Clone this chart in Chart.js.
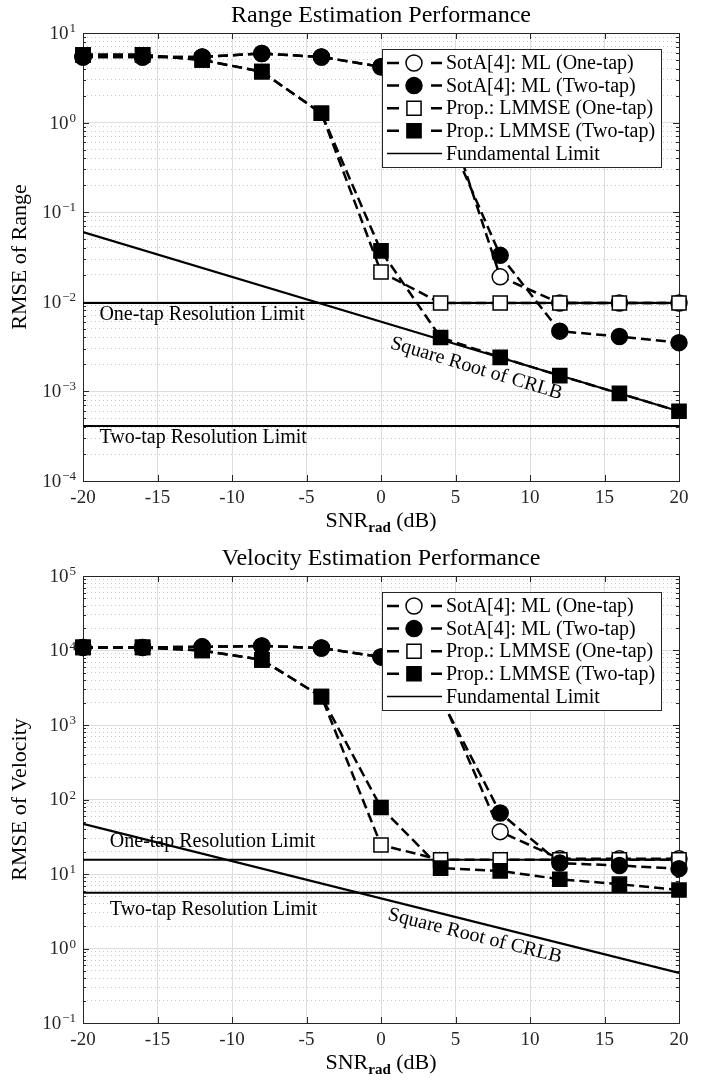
<!DOCTYPE html>
<html>
<head>
<meta charset="utf-8">
<script src="https://cdn.jsdelivr.net/npm/chart.js@4.4.1/dist/chart.umd.min.js"></script>
<style>
  html, body { margin: 0; padding: 0; background: #fff; }
  #wrap { position: relative; width: 713px; height: 1083px; }
  .box { position: absolute; left: 0; width: 713px; }
</style>
</head>
<body>
<div id="wrap">
  <div class="box" style="top:0;height:540px"><canvas id="range-chart"></canvas></div>
  <div class="box" style="top:540px;height:543px"><canvas id="velocity-chart"></canvas></div>
</div>
<script>
// shared axis values
var snr = [-20, -16, -12, -8, -4, 0, 4, 8, 12, 16, 20];
var xTicks = [-20, -15, -10, -5, 0, 5, 10, 15, 20];
var seriesLabels = ["SotA[4]: ML (One-tap)", "SotA[4]: ML (Two-tap)", "Prop.: LMMSE (One-tap)", "Prop.: LMMSE (Two-tap)"];
var limitLabel = "Fundamental Limit";
var limitSnr = [-20, 20];

// range panel
var rangeMlOne = [5.4, 5.4, 5.4, 5.9, 5.4, 4.2, 2.0, 0.019, 0.0097, 0.0097, 0.0097];
var rangeMlTwo = [5.4, 5.4, 5.4, 5.9, 5.4, 4.2, 1.1, 0.033, 0.0047, 0.0041, 0.0035];
var rangeLmOne = [5.7, 5.7, 5.0, 3.7, 1.27, 0.0215, 0.0097, 0.0097, 0.0097, 0.0097, 0.0097];
var rangeLmTwo = [5.7, 5.7, 5.0, 3.7, 1.27, 0.037, 0.0040, 0.0024, 0.0015, 0.00095, 0.0006];
var rangeCrlb = [0.06, 0.0006];
var rangeOneTap = [0.0097, 0.0097];
var rangeTwoTap = [0.00041, 0.00041];
var rangeDecades = [-4, -3, -2, -1, 0, 1];

// velocity panel
var velMlOne = [11000, 11000, 11200, 11500, 10800, 8200, 2500, 37, 16, 16, 16];
var velMlTwo = [11000, 11000, 11200, 11500, 10800, 8200, 2300, 66, 14, 13, 11.8];
var velLmOne = [11000, 11000, 10000, 7500, 2400, 24.5, 15.5, 15.5, 15.5, 15.5, 15.5];
var velLmTwo = [11000, 11000, 10000, 7500, 2400, 78, 12, 11, 8.5, 7.3, 6.1];
var velCrlb = [47, 0.47];
var velOneTap = [15.5, 15.5];
var velTwoTap = [5.6, 5.6];
var velDecades = [-1, 0, 1, 2, 3, 4, 5];

var FONT = "'Liberation Serif', 'Times New Roman', serif";
var INK = "#262626";

function pts(ys, xs) {
  return ys.map(function (y, i) { return { x: xs[i], y: y }; });
}

function isDecade(v) {
  var l = Math.log10(v);
  return Math.abs(l - Math.round(l)) < 1e-9;
}

function series(label, data, style, filled, order) {
  return {
    label: label,
    data: pts(data, snr),
    borderColor: "#000",
    borderWidth: 2.5,
    borderDash: [10, 5],
    pointStyle: style,
    pointRadius: style === "rect" ? 10 : 8,
    pointHoverRadius: style === "rect" ? 10 : 8,
    pointBackgroundColor: filled ? "#000" : "#fff",
    pointBorderColor: "#000",
    pointBorderWidth: 1.5,
    order: order,
    clip: false,
    inLegend: true
  };
}

function limitLine(label, data, width, inLegend) {
  return {
    label: label,
    data: pts(data, limitSnr),
    borderColor: "#000",
    borderWidth: width,
    pointRadius: 0,
    pointHoverRadius: 0,
    order: 10,
    inLegend: inLegend
  };
}

function figurePlugin(fig) {
  return {
    id: "figure",
    beforeDatasetsDraw: function (chart) {
      var ctx = chart.ctx, a = chart.chartArea, ys = chart.scales.y, xs = chart.scales.x;
      ctx.save();
      ctx.strokeStyle = INK;
      ctx.lineWidth = 1;
      ctx.beginPath();
      ys.ticks.forEach(function (t) {
        var y = Math.round(ys.getPixelForValue(t.value)) + 0.5;
        var len = isDecade(t.value) ? 6 : 3;
        ctx.moveTo(a.left, y); ctx.lineTo(a.left + len, y);
        ctx.moveTo(a.right, y); ctx.lineTo(a.right - len, y);
      });
      xTicks.forEach(function (v) {
        var x = Math.round(xs.getPixelForValue(v)) + 0.5;
        ctx.moveTo(x, a.top); ctx.lineTo(x, a.top + 6);
        ctx.moveTo(x, a.bottom); ctx.lineTo(x, a.bottom - 6);
      });
      ctx.stroke();
      ctx.strokeRect(Math.round(a.left) + 0.5, Math.round(a.top) + 0.5,
        Math.round(a.right - a.left), Math.round(a.bottom - a.top));
      ctx.restore();
    },
    afterDatasetsDraw: function (chart) {
      var ctx = chart.ctx, a = chart.chartArea, ys = chart.scales.y, xs = chart.scales.x;
      ctx.save();
      ctx.fillStyle = "#000";
      ctx.font = "20px " + FONT;
      // text notes on the limit lines
      fig.notes.forEach(function (n) {
        var x = xs.getPixelForValue(n.snr), y = ys.getPixelForValue(n.value);
        ctx.save();
        ctx.translate(x, y);
        if (n.along) {
          var x1 = xs.getPixelForValue(limitSnr[0]), x2 = xs.getPixelForValue(limitSnr[1]);
          var y1 = ys.getPixelForValue(fig.crlb[0]), y2 = ys.getPixelForValue(fig.crlb[1]);
          ctx.rotate(Math.atan2(y2 - y1, x2 - x1));
          ctx.textAlign = "center";
        } else {
          ctx.textAlign = "left";
        }
        ctx.textBaseline = "middle";
        ctx.fillText(n.text, 0, 0);
        ctx.restore();
      });

      // legend box
      var bx = a.right - 18 - 279, by = a.top + 16, bw = 279, bh = 118;
      ctx.fillStyle = "#fff";
      ctx.fillRect(bx, by, bw, bh);
      ctx.strokeStyle = INK;
      ctx.lineWidth = 1;
      ctx.strokeRect(Math.round(bx) + 0.5, Math.round(by) + 0.5, bw, bh);
      var items = chart.data.datasets.filter(function (d) { return d.inLegend; });
      items.forEach(function (d, i) {
        var y = by + 14 + i * 22.6;
        ctx.strokeStyle = "#000";
        if (d.pointRadius > 0) {
          ctx.lineWidth = 2.5;
          ctx.beginPath();
          ctx.moveTo(bx + 5, y); ctx.lineTo(bx + 17, y);
          ctx.moveTo(bx + 49, y); ctx.lineTo(bx + 60, y);
          ctx.stroke();
          ctx.lineWidth = 1.5;
          ctx.fillStyle = d.pointBackgroundColor;
          ctx.beginPath();
          if (d.pointStyle === "rect") {
            var s = d.pointRadius * Math.SQRT1_2;
            ctx.rect(bx + 32 - s, y - s, 2 * s, 2 * s);
          } else {
            ctx.arc(bx + 32, y, d.pointRadius, 0, Math.PI * 2);
          }
          ctx.fill();
          ctx.stroke();
        } else {
          ctx.lineWidth = 1.5;
          ctx.beginPath();
          ctx.moveTo(bx + 5, y); ctx.lineTo(bx + 60, y);
          ctx.stroke();
        }
        ctx.fillStyle = "#000";
        ctx.font = "20px " + FONT;
        ctx.textAlign = "left";
        ctx.textBaseline = "middle";
        ctx.fillText(d.label, bx + 64, y + 1);
      });
      ctx.restore();
    },
    afterDraw: function (chart) {
      var ctx = chart.ctx, a = chart.chartArea, ys = chart.scales.y;
      var cx = (a.left + a.right) / 2, cy = (a.top + a.bottom) / 2;
      ctx.save();
      ctx.fillStyle = INK;
      // y tick labels 10^n
      fig.decades.forEach(function (e) {
        var y = ys.getPixelForValue(Math.pow(10, e));
        var exp = e < 0 ? "\u2212" + (-e) : String(e);
        ctx.textBaseline = "alphabetic";
        ctx.textAlign = "right";
        ctx.font = "13px " + FONT;
        var ew = ctx.measureText(exp).width;
        ctx.fillText(exp, a.left - 7, y - 1);
        ctx.font = "19px " + FONT;
        ctx.textBaseline = "middle";
        ctx.fillText("10", a.left - 8 - ew, y + 1);
      });
      ctx.fillStyle = "#000";
      // title
      ctx.font = "24px " + FONT;
      ctx.textAlign = "center";
      ctx.textBaseline = "alphabetic";
      ctx.fillText(fig.title, cx, a.top - 11);
      // x title: SNR_rad (dB)
      var base = a.bottom + 46;
      ctx.font = "22px " + FONT;
      var w1 = ctx.measureText("SNR").width;
      var w3 = ctx.measureText(" (dB)").width;
      ctx.font = "bold 15px " + FONT;
      var w2 = ctx.measureText("rad").width;
      var x0 = cx - (w1 + w2 + w3) / 2;
      ctx.textAlign = "left";
      ctx.font = "22px " + FONT;
      ctx.fillText("SNR", x0, base);
      ctx.fillText(" (dB)", x0 + w1 + w2, base);
      ctx.font = "bold 15px " + FONT;
      ctx.fillText("rad", x0 + w1, base + 5);
      // y title
      ctx.save();
      ctx.translate(26, cy);
      ctx.rotate(-Math.PI / 2);
      ctx.font = "22px " + FONT;
      ctx.textAlign = "center";
      ctx.fillText(fig.yTitle, 0, 0);
      ctx.restore();
      ctx.restore();
    }
  };
}

function makeChart(id, fig, datasets, plotTop, xAxisHeight) {
  var decades = fig.decades;
  return new Chart(document.getElementById(id), {
    type: "line",
    data: { datasets: datasets },
    options: {
      responsive: true,
      maintainAspectRatio: false,
      animation: false,
      events: [],
      layout: { padding: { top: plotTop, right: 34, left: 0, bottom: 0 } },
      plugins: { legend: { display: false }, title: { display: false }, tooltip: { enabled: false } },
      scales: {
        x: {
          type: "linear",
          min: -20,
          max: 20,
          afterBuildTicks: function (scale) {
            scale.ticks = xTicks.map(function (v) { return { value: v }; });
          },
          afterFit: function (scale) { scale.height = xAxisHeight; },
          ticks: { font: { family: FONT, size: 19 }, color: INK, padding: 6, maxRotation: 0, autoSkip: false },
          grid: { color: "#dedede", drawTicks: false },
          border: { display: false }
        },
        y: {
          type: "logarithmic",
          min: Math.pow(10, decades[0]),
          max: Math.pow(10, decades[decades.length - 1]),
          afterBuildTicks: function (scale) {
            var t = [];
            decades.forEach(function (e, i) {
              var b = Math.pow(10, e);
              t.push({ value: b });
              if (i < decades.length - 1) {
                for (var m = 2; m <= 9; m++) t.push({ value: m * b });
              }
            });
            scale.ticks = t;
          },
          afterFit: function (scale) { scale.width = 83; },
          ticks: { display: false, autoSkip: false },
          grid: {
            drawTicks: false,
            color: function (c) { return c.tick && isDecade(c.tick.value) ? "#dcdcdc" : "#c8c8c8"; }
          },
          border: {
            display: false,
            dash: function (c) { return c.tick && isDecade(c.tick.value) ? [] : [1, 3]; }
          }
        }
      }
    },
    plugins: [figurePlugin(fig)]
  });
}

makeChart("range-chart", {
  title: "Range Estimation Performance",
  yTitle: "RMSE of Range",
  decades: rangeDecades,
  crlb: rangeCrlb,
  notes: [
    { text: "One-tap Resolution Limit", snr: -18.9, value: 0.0071 },
    { text: "Two-tap Resolution Limit", snr: -18.9, value: 0.0003 },
    { text: "Square Root of CRLB", snr: 6.4, value: 0.0018, along: true }
  ]
}, [
  series(seriesLabels[0], rangeMlOne, "circle", false, 3),
  series(seriesLabels[1], rangeMlTwo, "circle", true, 1),
  series(seriesLabels[2], rangeLmOne, "rect", false, 2),
  series(seriesLabels[3], rangeLmTwo, "rect", true, 0),
  limitLine(limitLabel, rangeCrlb, 2.2, true),
  limitLine("One-tap Resolution Limit", rangeOneTap, 2, false),
  limitLine("Two-tap Resolution Limit", rangeTwoTap, 2, false)
], 33, 59);

makeChart("velocity-chart", {
  title: "Velocity Estimation Performance",
  yTitle: "RMSE of Velocity",
  decades: velDecades,
  crlb: velCrlb,
  notes: [
    { text: "One-tap Resolution Limit", snr: -18.2, value: 27 },
    { text: "Two-tap Resolution Limit", snr: -18.2, value: 3.3 },
    { text: "Square Root of CRLB", snr: 6.3, value: 1.47, along: true }
  ]
}, [
  series(seriesLabels[0], velMlOne, "circle", false, 3),
  series(seriesLabels[1], velMlTwo, "circle", true, 1),
  series(seriesLabels[2], velLmOne, "rect", false, 2),
  series(seriesLabels[3], velLmTwo, "rect", true, 0),
  limitLine(limitLabel, velCrlb, 2.2, true),
  limitLine("One-tap Resolution Limit", velOneTap, 2, false),
  limitLine("Two-tap Resolution Limit", velTwoTap, 2, false)
], 36, 60);
</script>
</body>
</html>
